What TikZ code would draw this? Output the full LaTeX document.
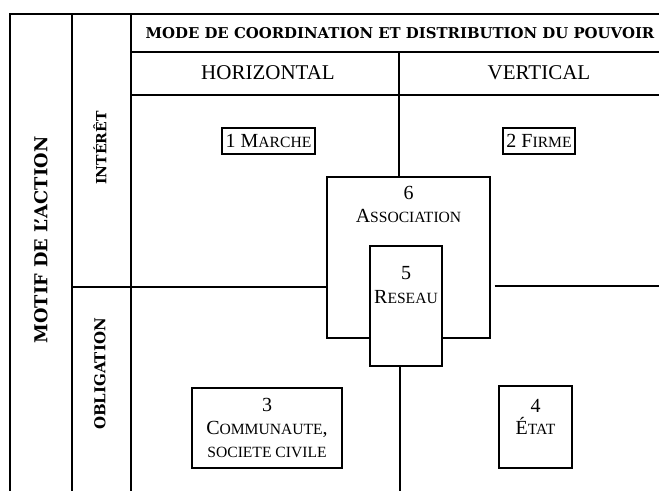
\documentclass[tikz,border=0pt]{standalone}
\usepackage{fontspec}
\setmainfont{Liberation Serif}
\newfontfamily\hdrfont{DejaVu Serif}
\usetikzlibrary{positioning, calc}

% fake small capitals
\newcommand{\smc}[1]{{\fontsize{15.6}{23}\selectfont #1}}

\begin{document}
\begin{tikzpicture}[
    x=1pt, y=-1pt,
    grid/.style={line width=1.3pt, black},
    hdr/.style={font=\hdrfont\bfseries\fontsize{14.9}{17}\selectfont, inner sep=0pt},
    axis/.style={font=\fontsize{21}{22}\selectfont, inner sep=0pt},
    casebox/.style={
      draw, line width=1.3pt, fill=white, align=center, inner sep=1pt,
      font=\fontsize{20}{23}\selectfont
    },
    bigbox/.style={draw, line width=1.3pt, fill=white},
    boxtext/.style={align=center, inner sep=0pt, font=\fontsize{20}{24}\selectfont},
]
    \useasboundingbox (0,0) rectangle (659,491);

    % Frame of the table
    \coordinate (tl) at (10,14);
    \coordinate (tr) at (659,14);
    \coordinate (bl) at (10,491);
    \draw[grid] (tr) -- (tl) -- (bl);
    \draw[grid] (72,14) -- (72,491);
    \draw[grid] (131,14) -- (131,491);
    \draw[grid] (131,52) -- (659,52);
    \draw[grid] (131,95) -- (659,95);

    % Headers
    \node[hdr] (mode) at (400,33) {MODE DE COORDINATION ET DISTRIBUTION DU POUVOIR};
    \node[axis] (horiz) at (268,73) {HORIZONTAL};
    \node[axis] (vert) at (539,73) {VERTICAL};
    \node[hdr, rotate=90, font=\hdrfont\bfseries\fontsize{17.8}{20}\selectfont] (motif) at (41,240) {MOTIF DE L’ACTION};
    \node[hdr, rotate=90, font=\hdrfont\bfseries\fontsize{14}{16}\selectfont] (interet) at (100,148) {INTÉRÊT};
    \node[hdr, rotate=90, font=\hdrfont\bfseries\fontsize{15}{17}\selectfont] (oblig) at (100,374) {OBLIGATION};

    % Association and reseau
    \node[bigbox, minimum width=163pt, minimum height=161pt] (assoc) at (408.5,257.5) {};
    \node[boxtext, below=10pt of assoc.north, font=\fontsize{20}{23}\selectfont] (assoctxt) {6\\A\smc{SSOCIATION}};
    \node[bigbox, minimum width=72pt, minimum height=120pt] (reseau) at (406,306) {};
    \node[boxtext, below=21pt of reseau.north] (reseautxt) {5\\R\smc{ESEAU}};

    % Cases
    \node[casebox, minimum width=93pt, minimum height=26pt] (marche) at (268.5,141) {1 M\smc{ARCHE}};
    \node[casebox, minimum width=72pt, minimum height=26pt] (firme) at (539,141) {2 F\smc{IRME}};
    \node[casebox, minimum width=150pt, minimum height=80pt] (commu) at (267,428)
      {3\\C\smc{OMMUNAUTE},\\\smc{SOCIETE CIVILE}};
    \node[bigbox, minimum width=73pt, minimum height=82pt] (etat) at (535.5,427) {};
    \node[boxtext, below=14pt of etat.north, font=\fontsize{20}{22}\selectfont] (etattxt) {4\\É\smc{TAT}};

    % Lines towards the central boxes
    \draw[grid] (399,95) -- (399,52);
    \draw[grid] (399,95) -- (assoc.north -| 399,0);
    \draw[grid] (72,287) -- (assoc.west |- 0,287);
    \draw[grid] ($(assoc.east |- 0,286)+(4,0)$) -- (659,286);
    \draw[grid] (reseau.south -| 400,0) -- (400,491);
\end{tikzpicture}
\end{document}
